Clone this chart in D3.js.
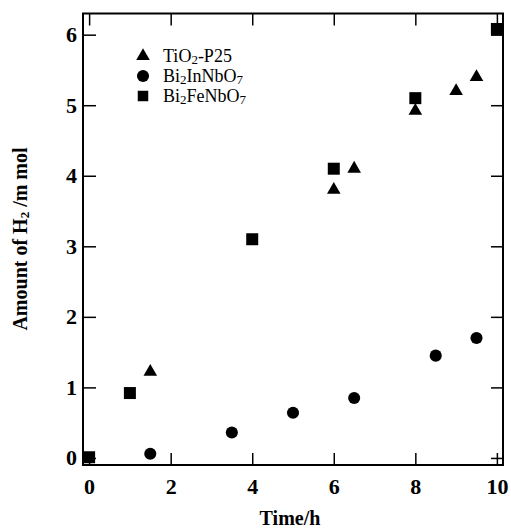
<!DOCTYPE html>
<html>
<head>
<meta charset="utf-8">
<script src="https://cdn.jsdelivr.net/npm/d3@7"></script>
<style>
  body { margin: 0; background: #fff; }
  text { font-family: "Liberation Serif", "DejaVu Serif", serif; fill: #000; }
</style>
</head>
<body>
<div id="chart"></div>
<script>
// series
var tio2Time = [1.5, 6, 6.5, 8, 9, 9.5];
var tio2H2   = [1.22, 3.8, 4.1, 4.92, 5.2, 5.4];

var inTime = [1.5, 3.5, 5, 6.5, 8.5, 9.5];
var inH2   = [0.06, 0.36, 0.64, 0.85, 1.45, 1.7];

var feTime = [0, 1, 4, 6, 8, 10];
var feH2   = [0.01, 0.92, 3.1, 4.1, 5.1, 6.08];

var xTicks = [0, 2, 4, 6, 8, 10];
var yTicks = [0, 1, 2, 3, 4, 5, 6];

var W = 511, H = 532;

var svg = d3.select('#chart')
  .append('svg')
    .attr('width', W)
    .attr('height', H);

var x = d3.scaleLinear().domain([-0.15, 10.15]).range([83, 503]);
var y = d3.scaleLinear().domain([-0.1, 6.3]).range([465, 13.5]);

// axes, ticks pointing inward
svg.append('g')
  .attr('class', 'axis')
  .attr('transform', 'translate(0,465)')
  .call(d3.axisBottom(x).tickValues(xTicks).tickSize(-12).tickPadding(13).tickFormat(d3.format('d')));

svg.append('g')
  .attr('transform', 'translate(0,13.5)')
  .call(d3.axisTop(x).tickValues(xTicks).tickSize(-12).tickFormat(''));

svg.append('g')
  .attr('class', 'axis')
  .attr('transform', 'translate(83,0)')
  .call(d3.axisLeft(y).tickValues(yTicks).tickSize(-13).tickPadding(6).tickFormat(d3.format('d')));

svg.append('g')
  .attr('transform', 'translate(503,0)')
  .call(d3.axisRight(y).tickValues(yTicks).tickSize(-12).tickFormat(''));

svg.selectAll('.domain').remove();
svg.selectAll('.tick line').attr('stroke', '#000').attr('stroke-width', 1.5);
svg.selectAll('.axis text')
  .style('font-family', '"Liberation Serif", serif')
  .style('font-weight', 'bold')
  .style('font-size', '22px')
  .attr('fill', '#000');

// frame
svg.append('rect')
  .attr('x', 83)
  .attr('y', 13.5)
  .attr('width', 420)
  .attr('height', 451.5)
  .attr('fill', 'none')
  .attr('stroke', '#000')
  .attr('stroke-width', 2);

var series = [
  { name: 'TiO2', t: tio2Time, v: tio2H2, sym: d3.symbolTriangle, size: 80 },
  { name: 'In',   t: inTime,   v: inH2,   sym: d3.symbolCircle,   size: 115 },
  { name: 'Fe',   t: feTime,   v: feH2,   sym: d3.symbolSquare,   size: 144 }
];

series.forEach(function(s) {
  svg.append('g')
    .selectAll('path')
    .data(d3.range(s.t.length))
    .enter()
      .append('path')
        .attr('d', d3.symbol().type(s.sym).size(s.size))
        .attr('transform', function(i) {
          return 'translate(' + x(s.t[i]) + ',' + y(s.v[i]) + ')';
        })
        .attr('fill', '#000');
});

// legend
var legend = [
  { parts: [['Ti', 0], ['O', 0], ['2', 1], ['-P25', 0]], sym: d3.symbolTriangle, size: 80 },
  { parts: [['Bi', 0], ['2', 1], ['InNbO', 0], ['7', 1]], sym: d3.symbolCircle, size: 115 },
  { parts: [['Bi', 0], ['2', 1], ['FeNbO', 0], ['7', 1]], sym: d3.symbolSquare, size: 110 }
];

var lg = svg.append('g').attr('class', 'legend');
legend.forEach(function(d, i) {
  var cy = 56 + i * 20;
  lg.append('path')
    .attr('d', d3.symbol().type(d.sym).size(d.size))
    .attr('transform', 'translate(143,' + cy + ')')
    .attr('fill', '#000');
  var t = lg.append('text')
    .attr('x', 163)
    .attr('y', cy + 6)
    .style('font-size', '18px');
  var sub = false;
  d.parts.forEach(function(p) {
    var ts = t.append('tspan').text(p[0]);
    if (p[1]) {
      ts.style('font-size', '13px').attr('dy', sub ? 0 : 2);
      sub = true;
    } else {
      if (sub) ts.attr('dy', -2);
      sub = false;
    }
  });
});

// axis titles
svg.append('text')
  .attr('x', 290)
  .attr('y', 525)
  .attr('text-anchor', 'middle')
  .style('font-weight', 'bold')
  .style('font-size', '20px')
  .text('Time/h');

var yt = svg.append('text')
  .attr('transform', 'translate(27,239) rotate(-90)')
  .attr('text-anchor', 'middle')
  .style('font-weight', 'bold')
  .style('font-size', '20px');
yt.append('tspan').text('Amount of H');
yt.append('tspan').text('2').style('font-size', '13px').attr('dy', 2);
yt.append('tspan').text(' /m mol').attr('dy', -2);
</script>
</body>
</html>
